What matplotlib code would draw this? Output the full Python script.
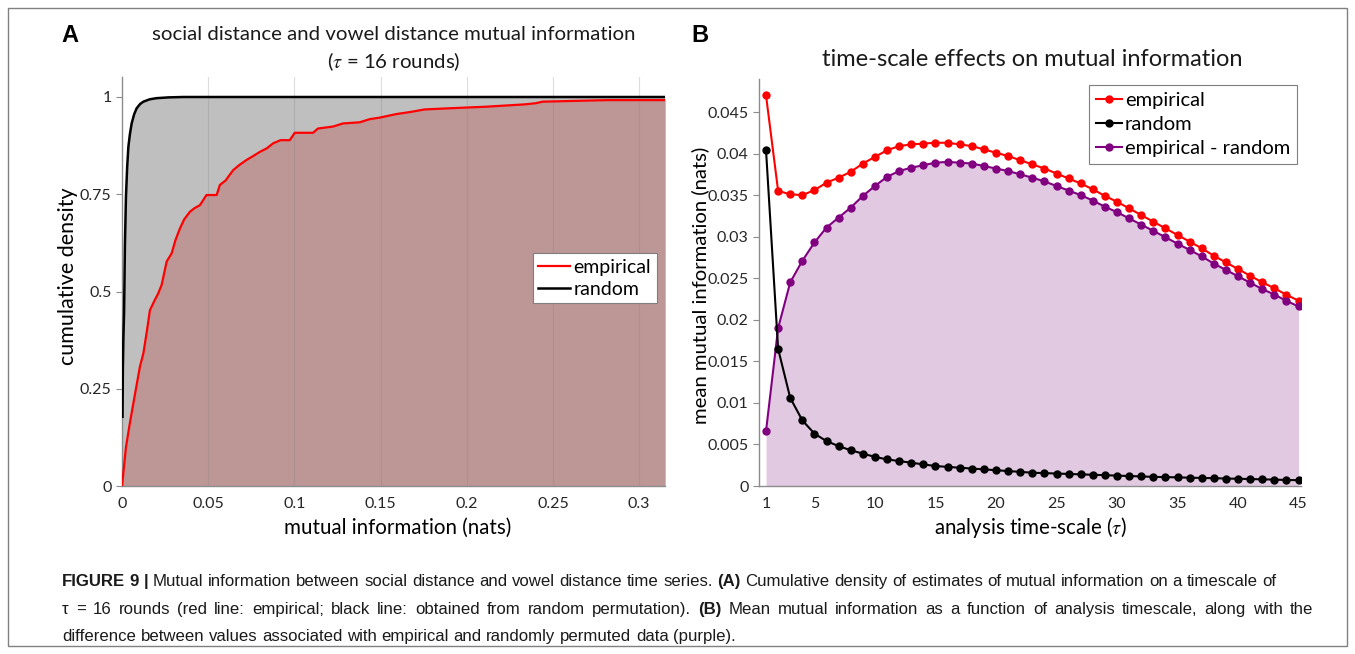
import numpy as np
import matplotlib.pyplot as plt
from matplotlib.patches import Rectangle

plt.rcParams['font.family'] = ['Lato', 'DejaVu Sans']
plt.rcParams['mathtext.fontset'] = 'stix'

# ---- panel A: cumulative density (tau = 16 rounds) ----
emp_x = [0, 0.0023, 0.0045, 0.0066, 0.0085, 0.0104, 0.0124, 0.0145, 0.0162, 0.019, 0.021, 0.023,
         0.0259, 0.0288, 0.031, 0.0336, 0.036, 0.0394, 0.042, 0.0452, 0.049, 0.0549, 0.0568,
         0.060, 0.0645, 0.068, 0.0722, 0.076, 0.080, 0.084, 0.0877, 0.092, 0.0973, 0.1002,
         0.1108, 0.1137, 0.1224, 0.1282, 0.1379, 0.1437, 0.1495, 0.159, 0.168, 0.1755, 0.190,
         0.211, 0.2335, 0.240, 0.244, 0.2817, 0.315]
emp_y = [0, 0.10, 0.16, 0.213, 0.26, 0.307, 0.341, 0.40, 0.452, 0.478, 0.495, 0.517,
         0.577, 0.598, 0.632, 0.662, 0.685, 0.705, 0.714, 0.722, 0.748, 0.748, 0.774,
         0.785, 0.812, 0.825, 0.838, 0.848, 0.859, 0.868, 0.881, 0.889, 0.889, 0.908,
         0.908, 0.919, 0.924, 0.932, 0.935, 0.943, 0.947, 0.956, 0.962, 0.968, 0.971,
         0.975, 0.981, 0.984, 0.988, 0.992, 0.992]
rnd_x = [0.0003, 0.0005, 0.0008, 0.0012, 0.0017, 0.0023, 0.003, 0.0037, 0.0046, 0.0056,
         0.007, 0.0085, 0.0105, 0.0124, 0.016, 0.020, 0.027, 0.0355, 0.315]
rnd_y = [0.178, 0.30, 0.38, 0.445, 0.62, 0.744, 0.82, 0.872, 0.905, 0.932,
         0.955, 0.971, 0.982, 0.988, 0.994, 0.997, 0.999, 1.0, 1.0]
a_xticks = [0, 0.05, 0.1, 0.15, 0.2, 0.25, 0.3]
a_xlabels = ['0', '0.05', '0.1', '0.15', '0.2', '0.25', '0.3']
a_yticks = [0, 0.25, 0.5, 0.75, 1]
a_ylabels = ['0', '0.25', '0.5', '0.75', '1']

# ---- panel B: mean MI vs analysis time-scale ----
tau = np.arange(1, 46)
mi_emp = np.array([0.0470, 0.0355, 0.0351, 0.0350, 0.0356, 0.0365, 0.0371, 0.0378, 0.0388, 0.0396,
                   0.0404, 0.0409, 0.0411, 0.0412, 0.0413, 0.0413, 0.0411, 0.0409, 0.0405, 0.0401,
                   0.0397, 0.0392, 0.0387, 0.0382, 0.0376, 0.0370, 0.0364, 0.0357, 0.0349, 0.0342,
                   0.0334, 0.0326, 0.0318, 0.0310, 0.0302, 0.0294, 0.0286, 0.0277, 0.0269, 0.0261,
                   0.0253, 0.0245, 0.0238, 0.0230, 0.0223])
mi_rnd = np.array([0.0404, 0.0165, 0.0106, 0.0079, 0.0063, 0.0054, 0.0048, 0.0043, 0.0039, 0.0035,
                   0.0032, 0.0030, 0.0028, 0.0026, 0.0024, 0.0023, 0.0022, 0.0021, 0.0020, 0.0019,
                   0.0018, 0.0017, 0.0016, 0.00155, 0.0015, 0.00145, 0.0014, 0.00135, 0.0013, 0.00125,
                   0.0012, 0.00115, 0.0011, 0.00107, 0.00104, 0.0010, 0.00097, 0.00094, 0.0009, 0.00087,
                   0.00084, 0.0008, 0.00077, 0.00072, 0.0007])
mi_diff = mi_emp - mi_rnd
b_xticks = [1, 5, 10, 15, 20, 25, 30, 35, 40, 45]
b_yticks = [0, 0.005, 0.01, 0.015, 0.02, 0.025, 0.03, 0.035, 0.04, 0.045]
b_ylabels = ['0', '0.005', '0.01', '0.015', '0.02', '0.025', '0.03', '0.035', '0.04', '0.045']

W, H = 1355, 654
fig = plt.figure(figsize=(W / 100, H / 100), dpi=100)


def fx(x):
    return x / W


def fy(y):
    return 1 - y / H


def style_axes(ax):
    for s in ['top', 'right']:
        ax.spines[s].set_visible(False)
    for s in ['left', 'bottom']:
        ax.spines[s].set_color('#8c8c8c')
        ax.spines[s].set_linewidth(1)
    ax.tick_params(colors='#8c8c8c', labelcolor='#262626', labelsize=11.5, length=4, width=0.8)


# panel A
axA = fig.add_axes([fx(122), fy(486), fx(665 - 122), (486 - 77) / H])
axA.fill_between(rnd_x, rnd_y, color='#bfbfbf', lw=0, zorder=1)
axA.fill_between(emp_x, emp_y, color='#bd9696', lw=0, zorder=2)
for t in a_xticks[1:]:
    axA.axvline(t, color='#7f7f7f', lw=0.8, alpha=0.25, zorder=3)
axA.plot(emp_x, emp_y, color='red', lw=1.6, zorder=4, label='empirical')
axA.plot(rnd_x, rnd_y, color='black', lw=1.8, zorder=5, label='random')
axA.set_xlim(0, 0.315)
axA.set_ylim(0, (486 - 77) / 389)
axA.set_xticks(a_xticks, a_xlabels)
axA.set_yticks(a_yticks, a_ylabels)
style_axes(axA)
axA.tick_params(axis='x', length=0, pad=8)
legA = axA.legend(loc='upper right', bbox_to_anchor=(0.985, 0.57), borderaxespad=0,
                  fontsize=14, frameon=True, fancybox=False, edgecolor='#7f7f7f', framealpha=1,
                  handlelength=1.6, handletextpad=0.2, borderpad=0.3, labelspacing=0.25)
legA.get_frame().set_linewidth(0.8)

# panel B
axB = fig.add_axes([fx(759), fy(486), fx(1301 - 759), 0.049 * 8311 / H])
axB.fill_between(tau, mi_diff, color='#e1c9e2', lw=0, zorder=1)
l1, = axB.plot(tau, mi_emp, '-o', color='red', lw=1.5, ms=5, zorder=3, label='empirical')
l2, = axB.plot(tau, mi_rnd, '-o', color='black', lw=1.5, ms=5, zorder=5, label='random')
l3, = axB.plot(tau, mi_diff, '-o', color='#800080', lw=1.5, ms=5, zorder=4, label='empirical - random')
axB.set_xlim(0.42, 45.2)
axB.set_ylim(0, 0.049)
axB.set_xticks(b_xticks)
axB.set_yticks(b_yticks, b_ylabels)
style_axes(axB)
axB.tick_params(axis='x', length=0, pad=8)
legB = axB.legend(handles=[l1, l2, l3], loc='upper right', bbox_to_anchor=(0.993, 0.985),
                  borderaxespad=0, fontsize=14.5, frameon=True, fancybox=False,
                  edgecolor='#7f7f7f', framealpha=1, handlelength=1.3, handletextpad=0.15,
                  borderpad=0.35, labelspacing=0.35)
legB.get_frame().set_linewidth(0.8)

# titles and labels
fig.text(fx(70), fy(36), 'A', fontsize=17, fontweight='bold', family='Liberation Sans',
         ha='center', va='center')
fig.text(fx(700), fy(36), 'B', fontsize=17, fontweight='bold', family='Liberation Sans',
         ha='center', va='center')
fig.text(fx(394), fy(35), 'social distance and vowel distance mutual information',
         fontsize=14.7, ha='center', va='center', color='#1a1a1a')
fig.text(fx(394), fy(62), r'($\tau$ = 16 rounds)', fontsize=14.7, ha='center', va='center',
         color='#1a1a1a')
fig.text(fx(1032), fy(60), 'time-scale effects on mutual information', fontsize=17,
         ha='center', va='center', color='#1a1a1a')
fig.text(fx(68), fy(276), 'cumulative density', fontsize=15.5, rotation=90,
         ha='center', va='center')
fig.text(fx(398), fy(528), 'mutual information (nats)', fontsize=14.8, ha='center', va='center')
fig.text(fx(700), fy(285), 'mean mutual information (nats)', fontsize=14.6, rotation=90,
         ha='center', va='center')
fig.text(fx(1030), fy(528), r'analysis time-scale ($\tau$)', fontsize=14.8, ha='center',
         va='center')

# caption
cap_lines = [
    [('FIGURE 9 |', True), ('Mutual information between social distance and vowel distance time series.', False),
     ('(A)', True), ('Cumulative density of estimates of mutual information on a timescale of', False)],
    [('\u03c4 = 16 rounds (red line: empirical; black line: obtained from random permutation).', False),
     ('(B)', True), ('Mean mutual information as a function of analysis timescale, along with the', False)],
    [('difference between values associated with empirical and randomly permuted data (purple).', False)],
]
cap_base = [586, 614, 641]
cap_just = [None, 1313, None]
renderer = fig.canvas.get_renderer()
cap_fs = 12.1


def width_of(s, bold):
    t = fig.text(0, 0, s, fontsize=cap_fs, family='Liberation Sans',
                 fontweight='bold' if bold else 'normal')
    w = t.get_window_extent(renderer).width
    t.remove()
    return w


space_w = width_of('x x', False) - width_of('xx', False)
for segs, y, right in zip(cap_lines, cap_base, cap_just):
    words = [(w, b) for txt, b in segs for w in txt.split()]
    widths = [width_of(w, b) for w, b in words]
    gap = space_w
    if right is not None:
        gap = (right - 62 - sum(widths)) / (len(words) - 1)
    x = 62
    for (w, b), wd in zip(words, widths):
        fig.text(fx(x), fy(y), w, fontsize=cap_fs, family='Liberation Sans',
                 fontweight='bold' if b else 'normal', va='baseline', ha='left', color='#1a1a1a')
        x += wd + gap

fig.add_artist(Rectangle((fx(8), fy(646)), fx(1347 - 8), (646 - 8) / H, transform=fig.transFigure,
                         fill=False, edgecolor='#808080', lw=1))

fig.savefig('out.png', dpi=100)
